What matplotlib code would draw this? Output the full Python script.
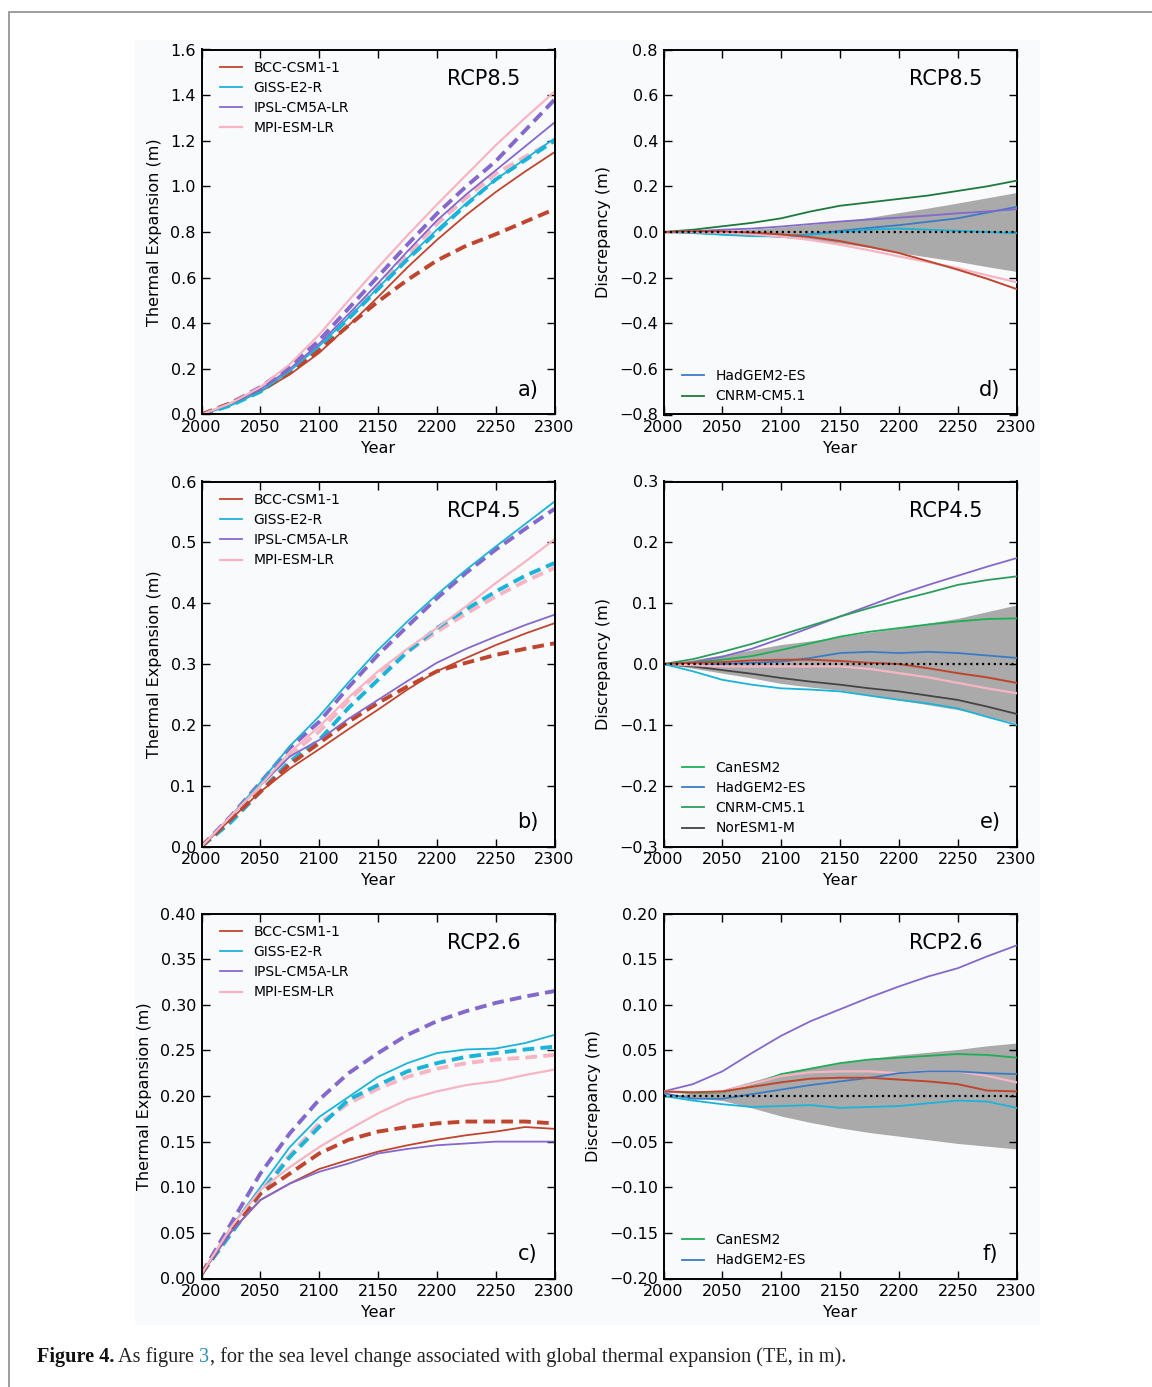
import matplotlib
matplotlib.use("Agg")
import matplotlib.pyplot as plt
from matplotlib.patches import Rectangle

# ---------------- data ----------------
years = [2000, 2025, 2050, 2075, 2100, 2125, 2150, 2175, 2200, 2225, 2250, 2275, 2300]

models_te = ["BCC-CSM1-1", "GISS-E2-R", "IPSL-CM5A-LR", "MPI-ESM-LR"]

# RCP8.5 thermal expansion (m): solid = model, dashed = emulation
a_bcc = [0, 0.045, 0.10, 0.175, 0.27, 0.39, 0.515, 0.645, 0.765, 0.875, 0.975, 1.065, 1.15]
a_bcc_d = [0, 0.05, 0.11, 0.185, 0.28, 0.39, 0.495, 0.59, 0.675, 0.74, 0.79, 0.845, 0.90]
a_giss = [0, 0.04, 0.10, 0.19, 0.30, 0.425, 0.555, 0.685, 0.81, 0.925, 1.03, 1.12, 1.21]
a_giss_d = [0, 0.04, 0.10, 0.185, 0.295, 0.42, 0.55, 0.68, 0.80, 0.92, 1.03, 1.115, 1.20]
a_ipsl = [0, 0.05, 0.11, 0.20, 0.31, 0.44, 0.575, 0.715, 0.85, 0.965, 1.07, 1.175, 1.28]
a_ipsl_d = [0, 0.05, 0.12, 0.21, 0.325, 0.465, 0.605, 0.745, 0.88, 1.0, 1.11, 1.245, 1.38]
a_mpi = [0, 0.05, 0.12, 0.22, 0.35, 0.50, 0.645, 0.785, 0.92, 1.05, 1.18, 1.30, 1.415]
a_mpi_d = [0, 0.045, 0.105, 0.19, 0.30, 0.43, 0.56, 0.70, 0.835, 0.95, 1.055, 1.13, 1.20]

# RCP4.5
b_bcc = [0, 0.045, 0.09, 0.128, 0.16, 0.193, 0.225, 0.258, 0.288, 0.31, 0.331, 0.35, 0.367]
b_bcc_d = [0, 0.045, 0.09, 0.135, 0.17, 0.205, 0.236, 0.263, 0.288, 0.302, 0.315, 0.325, 0.334]
b_giss = [0, 0.05, 0.105, 0.165, 0.214, 0.27, 0.323, 0.37, 0.414, 0.455, 0.493, 0.53, 0.567]
b_giss_d = [0, 0.04, 0.09, 0.14, 0.175, 0.228, 0.274, 0.32, 0.359, 0.39, 0.419, 0.445, 0.466]
b_ipsl = [0, 0.05, 0.10, 0.148, 0.175, 0.21, 0.241, 0.272, 0.302, 0.325, 0.345, 0.364, 0.381]
b_ipsl_d = [0, 0.05, 0.105, 0.162, 0.205, 0.262, 0.315, 0.362, 0.408, 0.45, 0.488, 0.522, 0.555]
b_mpi = [0, 0.05, 0.10, 0.155, 0.197, 0.245, 0.288, 0.325, 0.359, 0.395, 0.433, 0.468, 0.505]
b_mpi_d = [0, 0.045, 0.10, 0.15, 0.189, 0.24, 0.285, 0.32, 0.353, 0.383, 0.411, 0.436, 0.458]

# RCP2.6
c_bcc = [0.005, 0.051, 0.086, 0.104, 0.12, 0.13, 0.139, 0.146, 0.152, 0.157, 0.161, 0.166, 0.164]
c_bcc_d = [0.005, 0.053, 0.093, 0.115, 0.137, 0.152, 0.161, 0.166, 0.17, 0.172, 0.172, 0.172, 0.17]
c_giss = [0.005, 0.056, 0.10, 0.144, 0.177, 0.199, 0.221, 0.236, 0.247, 0.251, 0.252, 0.258, 0.267]
c_giss_d = [0.005, 0.049, 0.093, 0.133, 0.166, 0.196, 0.212, 0.227, 0.236, 0.243, 0.247, 0.251, 0.254]
c_ipsl = [0.005, 0.051, 0.086, 0.104, 0.117, 0.126, 0.137, 0.142, 0.146, 0.148, 0.15, 0.15, 0.15]
c_ipsl_d = [0.005, 0.06, 0.115, 0.159, 0.196, 0.225, 0.247, 0.267, 0.282, 0.293, 0.302, 0.309, 0.315]
c_mpi = [0.005, 0.056, 0.097, 0.122, 0.144, 0.163, 0.181, 0.196, 0.205, 0.212, 0.216, 0.223, 0.229]
c_mpi_d = [0.005, 0.05, 0.095, 0.135, 0.17, 0.192, 0.208, 0.221, 0.23, 0.236, 0.24, 0.242, 0.245]

# Discrepancy RCP8.5
d_cnrm = [0, 0.01, 0.025, 0.04, 0.06, 0.09, 0.115, 0.13, 0.145, 0.16, 0.18, 0.20, 0.225]
d_ipsl = [0, 0.003, 0.01, 0.015, 0.024, 0.035, 0.046, 0.055, 0.063, 0.072, 0.082, 0.09, 0.10]
d_had = [0, -0.003, -0.01, -0.015, -0.02, -0.01, 0.005, 0.018, 0.03, 0.045, 0.06, 0.085, 0.11]
d_giss = [0, -0.005, -0.012, -0.018, -0.02, -0.012, 0.0, 0.01, 0.015, 0.01, 0.005, 0.0, -0.005]
d_bcc = [0, 0.003, 0.003, -0.003, -0.01, -0.022, -0.04, -0.065, -0.092, -0.128, -0.165, -0.205, -0.25]
d_mpi = [0, 0, -0.003, -0.01, -0.02, -0.035, -0.056, -0.08, -0.107, -0.132, -0.158, -0.19, -0.22]
d_band_hi = [0, 0.002, 0.006, 0.012, 0.022, 0.033, 0.047, 0.064, 0.085, 0.105, 0.127, 0.15, 0.173]
d_band_lo = [0, -0.002, -0.006, -0.012, -0.023, -0.035, -0.049, -0.068, -0.09, -0.11, -0.129, -0.152, -0.173]

# Discrepancy RCP4.5
e_ipsl = [0, 0.003, 0.012, 0.025, 0.042, 0.06, 0.078, 0.096, 0.114, 0.13, 0.145, 0.16, 0.174]
e_cnrm = [0, 0.008, 0.02, 0.033, 0.048, 0.063, 0.078, 0.092, 0.105, 0.117, 0.13, 0.138, 0.144]
e_can = [0, 0.002, 0.007, 0.013, 0.023, 0.034, 0.045, 0.053, 0.059, 0.065, 0.07, 0.074, 0.075]
e_had = [0, -0.002, 0, 0.002, 0.004, 0.01, 0.018, 0.02, 0.018, 0.02, 0.018, 0.014, 0.01]
e_bcc = [0, 0.002, 0.003, 0.006, 0.007, 0.007, 0.005, 0.002, 0.0, -0.007, -0.015, -0.022, -0.031]
e_mpi = [0, -0.002, -0.004, -0.004, -0.004, -0.004, -0.004, -0.008, -0.015, -0.022, -0.031, -0.04, -0.048]
e_nor = [0, -0.004, -0.01, -0.016, -0.023, -0.029, -0.034, -0.04, -0.045, -0.052, -0.059, -0.07, -0.082]
e_giss = [0, -0.012, -0.026, -0.034, -0.04, -0.042, -0.045, -0.052, -0.059, -0.065, -0.073, -0.087, -0.10]
e_band_hi = [0, 0.007, 0.015, 0.023, 0.032, 0.038, 0.045, 0.052, 0.059, 0.067, 0.075, 0.086, 0.097]
e_band_lo = [0, -0.007, -0.015, -0.023, -0.032, -0.038, -0.043, -0.051, -0.059, -0.067, -0.075, -0.086, -0.097]

# Discrepancy RCP2.6
f_ipsl = [0.005, 0.013, 0.027, 0.047, 0.066, 0.082, 0.095, 0.108, 0.12, 0.131, 0.14, 0.153, 0.165]
f_can = [0.005, 0.003, 0.004, 0.012, 0.024, 0.03, 0.036, 0.04, 0.042, 0.044, 0.046, 0.045, 0.042]
f_mpi = [0.005, 0.004, 0.005, 0.013, 0.022, 0.026, 0.027, 0.027, 0.025, 0.027, 0.027, 0.022, 0.015]
f_had = [0.003, -0.003, -0.003, 0.002, 0.007, 0.012, 0.016, 0.02, 0.025, 0.027, 0.027, 0.025, 0.024]
f_bcc = [0.005, 0.004, 0.005, 0.01, 0.015, 0.019, 0.02, 0.02, 0.018, 0.016, 0.013, 0.006, 0.005]
f_giss = [0, -0.005, -0.009, -0.012, -0.011, -0.01, -0.013, -0.012, -0.011, -0.008, -0.005, -0.006, -0.013]
f_band_hi = [0, 0.003, 0.007, 0.016, 0.025, 0.031, 0.036, 0.041, 0.045, 0.048, 0.051, 0.055, 0.058]
f_band_lo = [0, -0.002, -0.005, -0.013, -0.022, -0.029, -0.035, -0.04, -0.044, -0.048, -0.052, -0.055, -0.058]

xticks = [2000, 2050, 2100, 2150, 2200, 2250, 2300]

# ---------------- style ----------------
C_BCC = "#c0452f"
C_GISS = "#1ab4d8"
C_IPSL = "#8468cc"
C_MPI = "#f7b5c3"
C_CAN = "#1fae55"
C_HAD = "#3a7cc4"
C_CNRM_D = "#1d7a3c"
C_CNRM_E = "#2d9c5c"
C_NOR = "#444444"
BAND = "#aaaaaa"
BG = "#f9fafc"

W, H = 1152, 1387
fig = plt.figure(figsize=(W / 100, H / 100), dpi=100)
fig.patch.set_facecolor("white")

# outer frame and backdrop (behind axes)
fig.patches.append(Rectangle((9 / W, -0.1), 2, 1.1 - 12 / H, transform=fig.transFigure,
                             fill=False, edgecolor="#8c8c8c", linewidth=1.2, zorder=-20))
fig.patches.append(Rectangle((135 / W, 1 - 1325 / H), (1040 - 135) / W, (1325 - 40) / H,
                             transform=fig.transFigure, facecolor=BG, edgecolor="none",
                             zorder=-10))

plt.rcParams["font.family"] = ["DejaVu Sans"]

def make_ax(x, y, w=353, h=365):
    ax = fig.add_axes([x / W, 1 - (y + h) / H, w / W, h / H])
    ax.set_facecolor(BG)
    for s in ax.spines.values():
        s.set_linewidth(1.4)
    ax.tick_params(direction="in", top=True, right=True, length=6, width=1,
                   labelsize=11.5, pad=4)
    ax.set_xlim(2000, 2300)
    ax.set_xticks(xticks)
    ax.set_xlabel("Year", fontsize=11.5, labelpad=4)
    return ax

LX = [201.5, 663.5]
TY = [49.5, 481.5, 913.5]

SOL = dict(lw=1.3)
DSH = dict(lw=2.8, linestyle=(0, (3, 1.6)))

te_sets = [
    (a_bcc, a_bcc_d, a_giss, a_giss_d, a_ipsl, a_ipsl_d, a_mpi, a_mpi_d, (0, 1.6), [0, .2, .4, .6, .8, 1., 1.2, 1.4, 1.6], "%.1f", "RCP8.5", "a)"),
    (b_bcc, b_bcc_d, b_giss, b_giss_d, b_ipsl, b_ipsl_d, b_mpi, b_mpi_d, (0, 0.6), [0, .1, .2, .3, .4, .5, .6], "%.1f", "RCP4.5", "b)"),
    (c_bcc, c_bcc_d, c_giss, c_giss_d, c_ipsl, c_ipsl_d, c_mpi, c_mpi_d, (0, 0.4), [0, .05, .1, .15, .2, .25, .3, .35, .4], "%.2f", "RCP2.6", "c)"),
]

for i, (bc, bcd, gi, gid, ip, ipd, mp, mpd, ylim, yt, fmt, rcp, lab) in enumerate(te_sets):
    ax = make_ax(LX[0], TY[i])
    ax.plot(years, mpd, color=C_MPI, **DSH)
    ax.plot(years, gid, color=C_GISS, **DSH)
    ax.plot(years, ipd, color=C_IPSL, **DSH)
    ax.plot(years, bcd, color=C_BCC, **DSH)
    l1, = ax.plot(years, bc, color=C_BCC, label=models_te[0], **SOL)
    l2, = ax.plot(years, gi, color=C_GISS, label=models_te[1], **SOL)
    l3, = ax.plot(years, ip, color=C_IPSL, label=models_te[2], **SOL)
    l4, = ax.plot(years, mp, color=C_MPI, label=models_te[3], lw=1.6)
    ax.set_ylim(*ylim)
    ax.set_yticks(yt)
    ax.set_yticklabels([fmt % v for v in yt])
    ax.set_ylabel("Thermal Expansion (m)", fontsize=11.5, labelpad=6)
    ax.legend(handles=[l1, l2, l3, l4], loc="upper left", frameon=False, fontsize=10,
              handlelength=1.6, handletextpad=0.85, labelspacing=0.45,
              borderaxespad=0.4, bbox_to_anchor=(0.02, 1.0))
    ax.text(0.80, 0.92, rcp, transform=ax.transAxes, fontsize=15, ha="center", va="center")
    ax.text(0.925, 0.068, lab, transform=ax.transAxes, fontsize=15, ha="center", va="center")

# ---- discrepancy panels ----
def disc_common(ax, band_hi, band_lo, ylim, yt, fmt, rcp, lab):
    ax.fill_between(years, band_lo, band_hi, color=BAND, linewidth=0, zorder=1)
    ax.plot([2000, 2300], [0, 0], color="black", linestyle=":", lw=1.6, zorder=5)
    ax.set_ylim(*ylim)
    ax.set_yticks(yt)
    ax.set_yticklabels([(fmt % v).replace("-", "\u2212") for v in yt])
    ax.set_ylabel("Discrepancy (m)", fontsize=11.5, labelpad=6)
    ax.text(0.80, 0.92, rcp, transform=ax.transAxes, fontsize=15, ha="center", va="center")
    ax.text(0.925, 0.068, lab, transform=ax.transAxes, fontsize=15, ha="center", va="center")

LEG = dict(loc="lower left", frameon=False, fontsize=10, handlelength=1.6,
           handletextpad=0.85, labelspacing=0.45, borderaxespad=0.4)

# d
ax = make_ax(LX[1], TY[0])
disc_common(ax, d_band_hi, d_band_lo, (-0.8, 0.8), [-.8, -.6, -.4, -.2, 0, .2, .4, .6, .8], "%.1f", "RCP8.5", "d)")
hd, = ax.plot(years, d_had, color=C_HAD, lw=1.3, zorder=3, label="HadGEM2-ES")
cn, = ax.plot(years, d_cnrm, color=C_CNRM_D, lw=1.3, zorder=3, label="CNRM-CM5.1")
ax.plot(years, d_ipsl, color=C_IPSL, lw=1.3, zorder=3)
ax.plot(years, d_giss, color=C_GISS, lw=1.3, zorder=3)
ax.plot(years, d_mpi, color=C_MPI, lw=1.6, zorder=3)
ax.plot(years, d_bcc, color=C_BCC, lw=1.4, zorder=3)
ax.legend(handles=[hd, cn], bbox_to_anchor=(0.02, 0.0), **LEG)

# e
ax = make_ax(LX[1], TY[1])
disc_common(ax, e_band_hi, e_band_lo, (-0.3, 0.3), [-.3, -.2, -.1, 0, .1, .2, .3], "%.1f", "RCP4.5", "e)")
ax.plot(years, e_ipsl, color=C_IPSL, lw=1.3, zorder=3)
ce, = ax.plot(years, e_can, color=C_CAN, lw=1.3, zorder=3, label="CanESM2")
he, = ax.plot(years, e_had, color=C_HAD, lw=1.3, zorder=3, label="HadGEM2-ES")
cne, = ax.plot(years, e_cnrm, color=C_CNRM_E, lw=1.3, zorder=3, label="CNRM-CM5.1")
ne, = ax.plot(years, e_nor, color=C_NOR, lw=1.3, zorder=3, label="NorESM1-M")
ax.plot(years, e_mpi, color=C_MPI, lw=1.6, zorder=3)
ax.plot(years, e_bcc, color=C_BCC, lw=1.4, zorder=3)
ax.plot(years, e_giss, color=C_GISS, lw=1.3, zorder=3)
ax.legend(handles=[ce, he, cne, ne], bbox_to_anchor=(0.02, 0.0), **LEG)

# f
ax = make_ax(LX[1], TY[2])
disc_common(ax, f_band_hi, f_band_lo, (-0.2, 0.2), [-.2, -.15, -.1, -.05, 0, .05, .1, .15, .2], "%.2f", "RCP2.6", "f)")
ax.plot(years, f_ipsl, color=C_IPSL, lw=1.3, zorder=3)
cf, = ax.plot(years, f_can, color=C_CAN, lw=1.3, zorder=3, label="CanESM2")
ax.plot(years, f_mpi, color=C_MPI, lw=1.6, zorder=3)
hf, = ax.plot(years, f_had, color=C_HAD, lw=1.3, zorder=3, label="HadGEM2-ES")
ax.plot(years, f_bcc, color=C_BCC, lw=1.4, zorder=3)
ax.plot(years, f_giss, color=C_GISS, lw=1.3, zorder=3)
ax.legend(handles=[cf, hf], bbox_to_anchor=(0.02, 0.0), **LEG)

# ---- caption ----
renderer = fig.canvas.get_renderer()
cap_y = 1 - 1357 / H
x0 = 37 / W
parts = [("Figure 4.", "bold", "#111111"), (" As figure ", "normal", "#222222"),
         ("3", "normal", "#2a8fc0"),
         (", for the sea level change associated with global thermal expansion (TE, in m).", "normal", "#222222")]
x = x0
for txt, wt, col in parts:
    t = fig.text(x, cap_y, txt, fontsize=14.6, family="Liberation Serif", weight=wt,
                 color=col, ha="left", va="center")
    bb = t.get_window_extent(renderer=renderer)
    x += bb.width / W

fig.savefig("out.png", dpi=100, facecolor="white")
